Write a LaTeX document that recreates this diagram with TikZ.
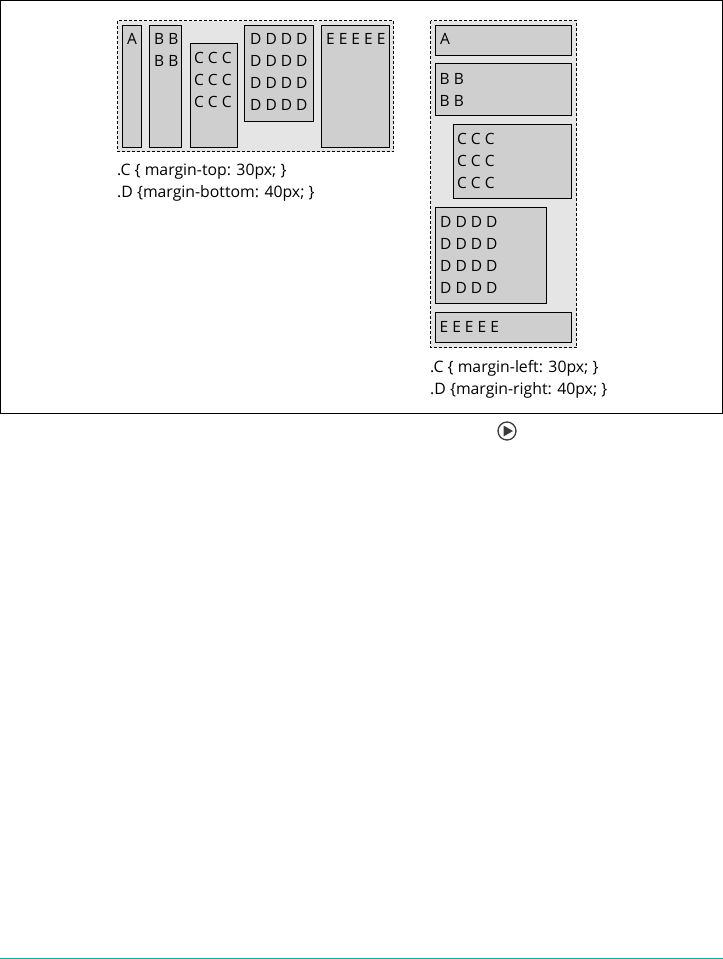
\documentclass[tikz,border=0pt]{standalone}
\usepackage{fontspec}
\setmainfont{Open Sans}
\usepackage{tikz}
\tikzset{
  flexbox/.style={fill=boxgrey!55!white, draw=black, dash pattern=on 3pt off 2pt, line width=1pt},
  itembox/.style={fill=boxgrey, draw=black, line width=1pt},
  itemtext/.style={anchor=base west, inner sep=0pt, align=left, font=\fontsize{15.5}{22}\selectfont},
  caption/.style={anchor=base west, inner sep=0pt, align=left, font=\fontsize{15.8}{22}\selectfont}
}
\definecolor{boxgrey}{HTML}{CFCFCF}
\definecolor{rulegreen}{HTML}{00B5A0}
\definecolor{icongrey}{HTML}{3A3A3A}
\begin{document}
\begin{tikzpicture}[x=1pt, y=-1pt]
  \useasboundingbox (0,0) rectangle (723,959);
  % Outer frame
  \draw[line width=1pt] (0.5,0.5) rectangle (722.5,413.5);
  % Column container
  \filldraw[flexbox] (117.5,20.5) rectangle (393.5,151.5);
  \filldraw[itembox] (122.5,25.5) rectangle (141.5,147.5);
  \node[itemtext] (colA) at (127,44) {A};
  \filldraw[itembox] (149.5,25.5) rectangle (181.5,147.5);
  \node[itemtext] (colB) at (154,66) {B B\\B B};
  \filldraw[itembox] (190.5,43.5) rectangle (237.5,147.5);
  \node[itemtext] (colC) at (194,107) {C C C\\C C C\\C C C};
  \filldraw[itembox] (244.5,25.5) rectangle (313.5,121.5);
  \node[itemtext] (colD) at (250,110) {D D D D\\D D D D\\D D D D\\D D D D};
  \filldraw[itembox] (321.5,25.5) rectangle (389.5,147.5);
  \node[itemtext] (colE) at (326,44) {E E E E E};
  \node[caption] (colNote) at (117,197) {.C \{ margin-top: 30px; \}\\.D \{margin-bottom: 40px; \}};
  % Row container
  \filldraw[flexbox] (430.5,20.5) rectangle (576.5,347.5);
  \filldraw[itembox] (435.5,25.5) rectangle (571.5,55.5);
  \node[itemtext] (rowA) at (440,44) {A};
  \filldraw[itembox] (435.5,63.5) rectangle (571.5,115.5);
  \node[itemtext] (rowB) at (439.5,106) {B B\\B B};
  \filldraw[itembox] (453.5,124.5) rectangle (571.5,198.5);
  \node[itemtext] (rowC) at (457,188) {C C C\\C C C\\C C C};
  \filldraw[itembox] (435.5,207.5) rectangle (546.5,303.5);
  \node[itemtext] (rowD) at (440,293) {D D D D\\D D D D\\D D D D\\D D D D};
  \filldraw[itembox] (435.5,312.5) rectangle (571.5,342.5);
  \node[itemtext] (rowE) at (439.5,332) {E E E E E};
  \node[caption] (rowNote) at (430,394) {.C \{ margin-left: 30px; \}\\.D \{margin-right: 40px; \}};
  % Play icon
  \draw[icongrey, line width=1.3pt] (507,431) circle (9);
  \fill[icongrey] (503.5,425.5) -- (513,431) -- (503.5,436.5) -- cycle;
  % Bottom rule
  \draw[rulegreen, line width=1pt] (0,958.5) -- (723,958.5);
\end{tikzpicture}
\end{document}
